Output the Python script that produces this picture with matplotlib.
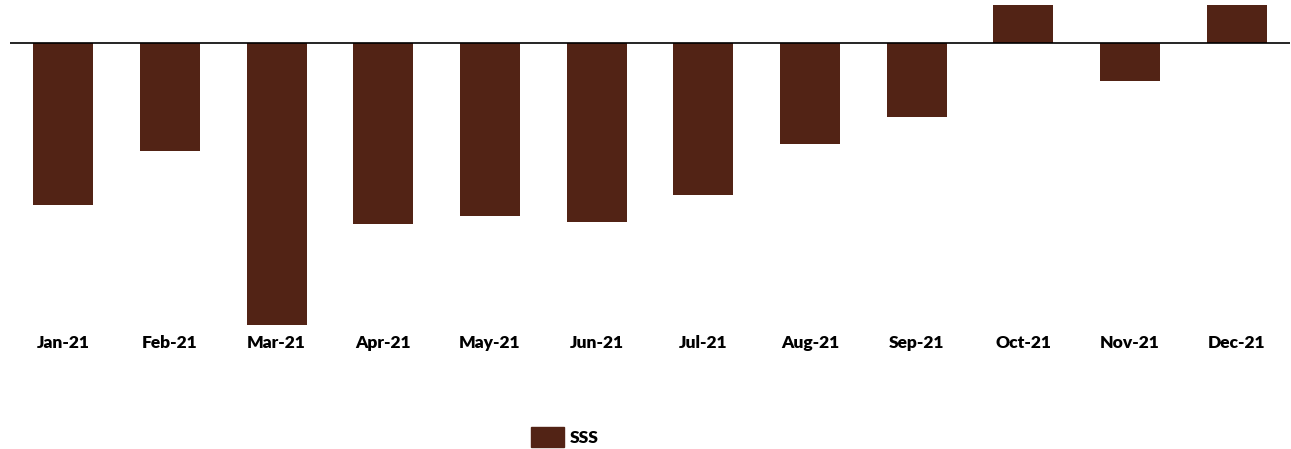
import matplotlib
matplotlib.use("Agg")
import matplotlib.pyplot as plt
from matplotlib.patches import Patch

months = ["Jan-21", "Feb-21", "Mar-21", "Apr-21", "May-21", "Jun-21",
          "Jul-21", "Aug-21", "Sep-21", "Oct-21", "Nov-21", "Dec-21"]
sss = [-16.2, -10.8, -28.2, -18.1, -17.3, -17.9, -15.2, -10.1, -7.4, 3.8, -3.8, 3.8]

color = "#522315"
W, H = 1291, 449
fig = plt.figure(figsize=(W / 100, H / 100), dpi=100)
top_px, bot_px = 5, 325
ax = fig.add_axes([10 / W, 1 - bot_px / H, 1280 / W, (bot_px - top_px) / H])

x = list(range(len(months)))
ax.bar(x, sss, width=0.56, color=color)
ax.axhline(0, color="black", lw=1.2)
ax.set_xlim(-0.5, len(months) - 0.5)
ax.set_ylim(min(sss), max(sss))
ax.set_xticks(x)
ax.set_xticklabels(months, fontfamily="Lato", fontweight="heavy", fontsize=12.5)
ax.tick_params(axis="x", length=0, pad=7)
ax.set_yticks([])
for s in ax.spines.values():
    s.set_visible(False)

handle = Patch(facecolor=color, edgecolor=color)
fig.legend([handle], ["SSS"], loc="center", bbox_to_anchor=(565 / W, 1 - 437 / H),
           frameon=False, prop={"family": "Lato", "weight": "heavy", "size": 12.5},
           handlelength=1.9, handleheight=1.32, handletextpad=0.3)

fig.savefig("out.png", dpi=100)
